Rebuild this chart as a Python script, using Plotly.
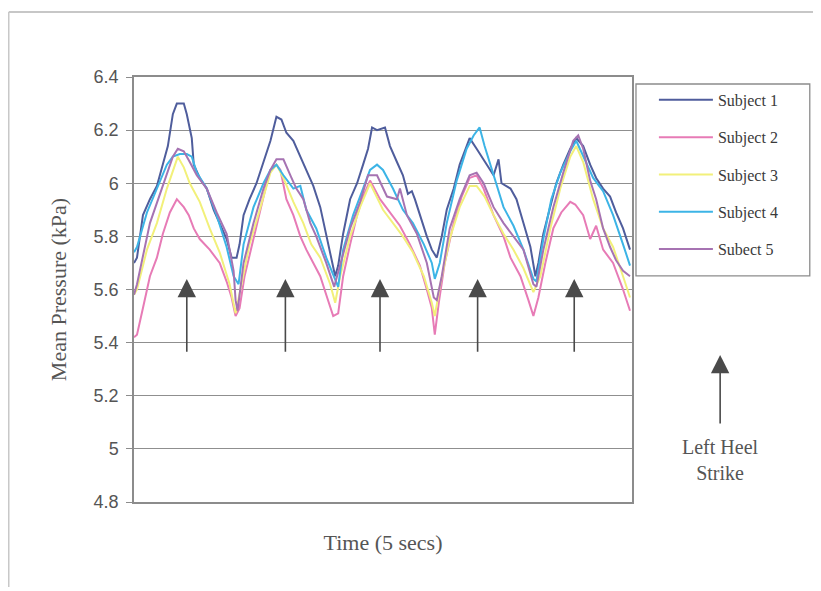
import plotly.graph_objects as go

# ---- data (time in seconds, mean pressure in kPa) ----
t1 = [0, 0.03, 0.09, 0.16, 0.23, 0.29, 0.34, 0.39, 0.43, 0.50, 0.53, 0.58, 0.60, 0.66, 0.73, 0.80, 0.86, 0.93, 0.98, 1.03,
      1.06, 1.10, 1.16, 1.23, 1.30, 1.37, 1.43, 1.48, 1.53, 1.60, 1.67, 1.73, 1.80, 1.87, 1.93, 1.98, 2.02, 2.05, 2.10, 2.17,
      2.24, 2.30, 2.35, 2.39, 2.44, 2.52, 2.57, 2.64, 2.70, 2.75, 2.79, 2.82, 2.87, 2.94, 2.99, 3.04, 3.09, 3.14, 3.21, 3.27,
      3.34, 3.37, 3.44, 3.51, 3.61, 3.66, 3.69, 3.78, 3.84, 3.91, 3.98, 4.03, 4.06, 4.11, 4.18, 4.24, 4.31, 4.38, 4.44, 4.51,
      4.58, 4.64, 4.71, 4.78, 4.84, 4.91, 4.98]
s1 = [5.70, 5.72, 5.88, 5.94, 5.99, 6.07, 6.14, 6.26, 6.30, 6.30, 6.26, 6.17, 6.07, 6.02, 5.98, 5.90, 5.85, 5.79, 5.72, 5.72,
      5.77, 5.88, 5.94, 6.00, 6.08, 6.16, 6.25, 6.24, 6.19, 6.16, 6.10, 6.05, 5.99, 5.91, 5.81, 5.72, 5.65, 5.69, 5.81, 5.94,
      6.00, 6.07, 6.13, 6.21, 6.20, 6.21, 6.14, 6.08, 6.03, 5.96, 5.97, 5.94, 5.88, 5.80, 5.75, 5.72, 5.80, 5.90, 5.98, 6.07,
      6.14, 6.17, 6.13, 6.09, 6.03, 6.09, 6.00, 5.98, 5.94, 5.85, 5.76, 5.65, 5.70, 5.81, 5.91, 6.00, 6.07, 6.13, 6.17, 6.14,
      6.07, 6.02, 5.98, 5.95, 5.89, 5.83, 5.75]

t2 = [0, 0.03, 0.09, 0.16, 0.23, 0.29, 0.36, 0.43, 0.50, 0.55, 0.60, 0.66, 0.76, 0.86, 0.93, 0.98, 1.02, 1.06, 1.11, 1.18,
      1.25, 1.32, 1.37, 1.43, 1.47, 1.53, 1.60, 1.67, 1.73, 1.80, 1.87, 1.93, 2.00, 2.05, 2.10, 2.17, 2.24, 2.30, 2.37, 2.47,
      2.57, 2.67, 2.77, 2.87, 2.94, 2.99, 3.02, 3.06, 3.12, 3.21, 3.29, 3.37, 3.44, 3.51, 3.61, 3.71, 3.78, 3.88, 3.96, 4.01,
      4.06, 4.13, 4.21, 4.29, 4.38, 4.43, 4.51, 4.58, 4.64, 4.71, 4.81, 4.91, 4.98]
s2 = [5.42, 5.43, 5.53, 5.65, 5.72, 5.81, 5.89, 5.94, 5.91, 5.88, 5.83, 5.79, 5.75, 5.70, 5.63, 5.57, 5.50, 5.53, 5.65, 5.76,
      5.88, 5.98, 6.05, 6.07, 6.05, 5.94, 5.88, 5.80, 5.75, 5.70, 5.65, 5.58, 5.50, 5.51, 5.65, 5.77, 5.88, 5.95, 6.01, 5.94,
      5.89, 5.84, 5.77, 5.69, 5.60, 5.53, 5.43, 5.55, 5.70, 5.85, 5.95, 6.02, 6.03, 5.98, 5.88, 5.80, 5.72, 5.65, 5.56, 5.50,
      5.57, 5.70, 5.83, 5.89, 5.93, 5.92, 5.88, 5.79, 5.84, 5.75, 5.70, 5.60, 5.52]

t3 = [0, 0.03, 0.13, 0.23, 0.33, 0.39, 0.44, 0.50, 0.56, 0.66, 0.76, 0.86, 0.96, 1.02, 1.08, 1.16, 1.27, 1.37, 1.43, 1.50,
      1.60, 1.70, 1.78, 1.87, 1.97, 2.02, 2.07, 2.17, 2.27, 2.37, 2.50, 2.60, 2.70, 2.80, 2.91, 2.99, 3.02, 3.07, 3.17, 3.27,
      3.37, 3.44, 3.52, 3.61, 3.71, 3.81, 3.91, 4.01, 4.08, 4.18, 4.28, 4.38, 4.44, 4.51, 4.61, 4.71, 4.81, 4.91, 4.98]
s3 = [5.58, 5.60, 5.75, 5.85, 5.98, 6.05, 6.10, 6.06, 6.00, 5.93, 5.83, 5.74, 5.62, 5.51, 5.62, 5.77, 5.91, 6.04, 6.07, 6.02,
      5.93, 5.85, 5.77, 5.72, 5.62, 5.55, 5.65, 5.80, 5.91, 6.00, 5.90, 5.85, 5.80, 5.74, 5.65, 5.55, 5.50, 5.61, 5.79, 5.91,
      5.99, 5.99, 5.95, 5.88, 5.81, 5.75, 5.68, 5.59, 5.65, 5.83, 5.98, 6.10, 6.14, 6.08, 5.94, 5.83, 5.76, 5.65, 5.57]

t4 = [0, 0.03, 0.13, 0.23, 0.33, 0.39, 0.46, 0.53, 0.58, 0.63, 0.73, 0.83, 0.93, 1.00, 1.05, 1.10, 1.20, 1.30, 1.37, 1.43,
      1.50, 1.60, 1.67, 1.73, 1.83, 1.93, 2.01, 2.05, 2.10, 2.20, 2.30, 2.37, 2.44, 2.50, 2.60, 2.70, 2.80, 2.91, 2.99, 3.02,
      3.07, 3.14, 3.24, 3.34, 3.41, 3.47, 3.52, 3.61, 3.71, 3.81, 3.91, 4.01, 4.04, 4.11, 4.19, 4.28, 4.38, 4.44, 4.51, 4.61,
      4.71, 4.81, 4.91, 4.98]
s4 = [5.74, 5.76, 5.89, 5.98, 6.07, 6.10, 6.11, 6.11, 6.10, 6.04, 5.98, 5.88, 5.76, 5.65, 5.62, 5.77, 5.91, 6.00, 6.05, 6.07,
      6.03, 5.98, 5.99, 5.90, 5.83, 5.72, 5.65, 5.61, 5.75, 5.88, 5.98, 6.05, 6.07, 6.05, 5.98, 5.90, 5.85, 5.77, 5.70, 5.64,
      5.70, 5.85, 6.01, 6.13, 6.18, 6.21, 6.14, 6.03, 5.91, 5.84, 5.75, 5.64, 5.63, 5.79, 5.94, 6.04, 6.12, 6.16, 6.10, 6.02,
      5.97, 5.88, 5.77, 5.69]

t5 = [0, 0.03, 0.16, 0.29, 0.39, 0.44, 0.50, 0.56, 0.63, 0.73, 0.83, 0.93, 1.00, 1.02, 1.04, 1.10, 1.20, 1.30, 1.37, 1.43,
      1.50, 1.57, 1.63, 1.70, 1.77, 1.83, 1.93, 2.01, 2.07, 2.17, 2.27, 2.35, 2.44, 2.54, 2.64, 2.67, 2.74, 2.84, 2.94, 3.01,
      3.04, 3.09, 3.17, 3.27, 3.37, 3.44, 3.51, 3.61, 3.71, 3.81, 3.91, 4.01, 4.04, 4.11, 4.21, 4.31, 4.41, 4.46, 4.51, 4.58,
      4.64, 4.71, 4.78, 4.84, 4.91, 4.98]
s5 = [5.58, 5.62, 5.85, 5.99, 6.10, 6.13, 6.12, 6.08, 6.03, 5.98, 5.89, 5.81, 5.67, 5.56, 5.52, 5.70, 5.85, 5.98, 6.05, 6.09,
      6.09, 6.03, 5.98, 5.94, 5.85, 5.80, 5.70, 5.61, 5.69, 5.83, 5.93, 6.03, 6.03, 5.95, 5.94, 5.98, 5.88, 5.81, 5.70, 5.57,
      5.56, 5.65, 5.83, 5.94, 6.03, 6.04, 6.00, 5.91, 5.85, 5.80, 5.75, 5.62, 5.61, 5.75, 5.91, 6.04, 6.16, 6.18, 6.13, 6.01,
      5.94, 5.83, 5.76, 5.71, 5.67, 5.65]

names = ["Subject 1", "Subject 2", "Subject 3", "Subject 4", "Subect 5"]
colors = ["#4f5d9c", "#e77bb6", "#f2f07a", "#3cb4e6", "#a673b2"]

heel_strike_times = [0.53, 1.52, 2.47, 3.45, 4.42]
arrow_tip = 5.64
arrow_tail = 5.36

y_ticks = [4.8, 5.0, 5.2, 5.4, 5.6, 5.8, 6.0, 6.2, 6.4]
y_tick_labels = ["4.8", "5", "5.2", "5.4", "5.6", "5.8", "6", "6.2", "6.4"]

# ---- figure ----
fig = go.Figure()
series = [(t1, s1), (t2, s2), (t3, s3), (t4, s4), (t5, s5)]
for i, ((tt, ss), nm, c) in enumerate(zip(series, names, colors)):
    fig.add_trace(go.Scatter(
        x=tt, y=ss, mode="lines", name=nm,
        line=dict(color=c, width=2), legendgroup="g%d" % i,
        hoverinfo="skip"))

serif = "Liberation Serif, Times New Roman, serif"
sans = "Liberation Sans, Arial, sans-serif"

annotations = []
for tx in heel_strike_times:
    annotations.append(dict(
        x=tx, y=arrow_tip, ax=tx, ay=arrow_tail, xref="x", yref="y",
        axref="x", ayref="y", text="", showarrow=True,
        arrowhead=2, arrowsize=2.3, arrowwidth=1.6, arrowcolor="#4a4a4a",
        standoff=0, startstandoff=0))

# legend-side explanatory arrow
annotations.append(dict(
    x=1.177, y=0.346, xref="paper", yref="paper", ax=0, ay=70,
    text="", showarrow=True, arrowhead=2, arrowsize=2.3, arrowwidth=1.6,
    arrowcolor="#4a4a4a", standoff=0))
annotations.append(dict(
    x=1.177, y=0.10, xref="paper", yref="paper", showarrow=False,
    text="Left Heel<br>Strike", align="center", xanchor="center", yanchor="middle",
    font=dict(family=serif, size=20, color="#555555")))

shapes = [
    # outer page frame (top and left edges)
    dict(type="line", xref="paper", yref="paper", x0=-0.2515, x1=1.40, y0=1.153, y1=1.153,
         line=dict(color="#b5b5b5", width=1.5)),
    dict(type="line", xref="paper", yref="paper", x0=-0.2515, x1=-0.2515, y0=1.153, y1=-0.20,
         line=dict(color="#c8c8c8", width=1.5)),
    # legend frame
    dict(type="rect", xref="paper", yref="paper", x0=1.008, x1=1.357, y0=0.532, y1=0.9835,
         line=dict(color="#8c8c8c", width=1.3), fillcolor="rgba(0,0,0,0)"),
]

fig.update_layout(
    width=813, height=583,
    margin=dict(l=126, r=189, t=69, b=89, autoexpand=False),
    paper_bgcolor="white", plot_bgcolor="white",
    showlegend=True,
    legend=dict(
        x=1.044, y=0.986, xanchor="left", yanchor="top",
        borderwidth=0, bgcolor="rgba(0,0,0,0)",
        font=dict(family=serif, size=16, color="#3a3a3a"),
        tracegroupgap=13.5, itemwidth=54, traceorder="grouped"),
    xaxis=dict(
        range=[0, 5], showticklabels=False, ticks="", showgrid=False, zeroline=False,
        showline=True, linecolor="#8c8c8c", linewidth=1.5, mirror=True,
        title=dict(text="Time (5 secs)", font=dict(family=serif, size=22, color="#555555"), standoff=32)),
    yaxis=dict(
        range=[4.8, 6.4], tickvals=y_ticks, ticktext=y_tick_labels,
        ticks="outside", ticklen=6, tickcolor="#8c8c8c", tickwidth=1.2,
        tickfont=dict(family=sans, size=18, color="#555555"), ticklabelstandoff=4,
        showgrid=True, gridcolor="#8f8f8f", gridwidth=1.3, zeroline=False,
        showline=True, linecolor="#8c8c8c", linewidth=1.5, mirror=True,
        title=dict(text="Mean Pressure (kPa)", font=dict(family=serif, size=22, color="#555555"), standoff=21)),
    annotations=annotations,
    shapes=shapes,
)

fig.write_html("out.html")
